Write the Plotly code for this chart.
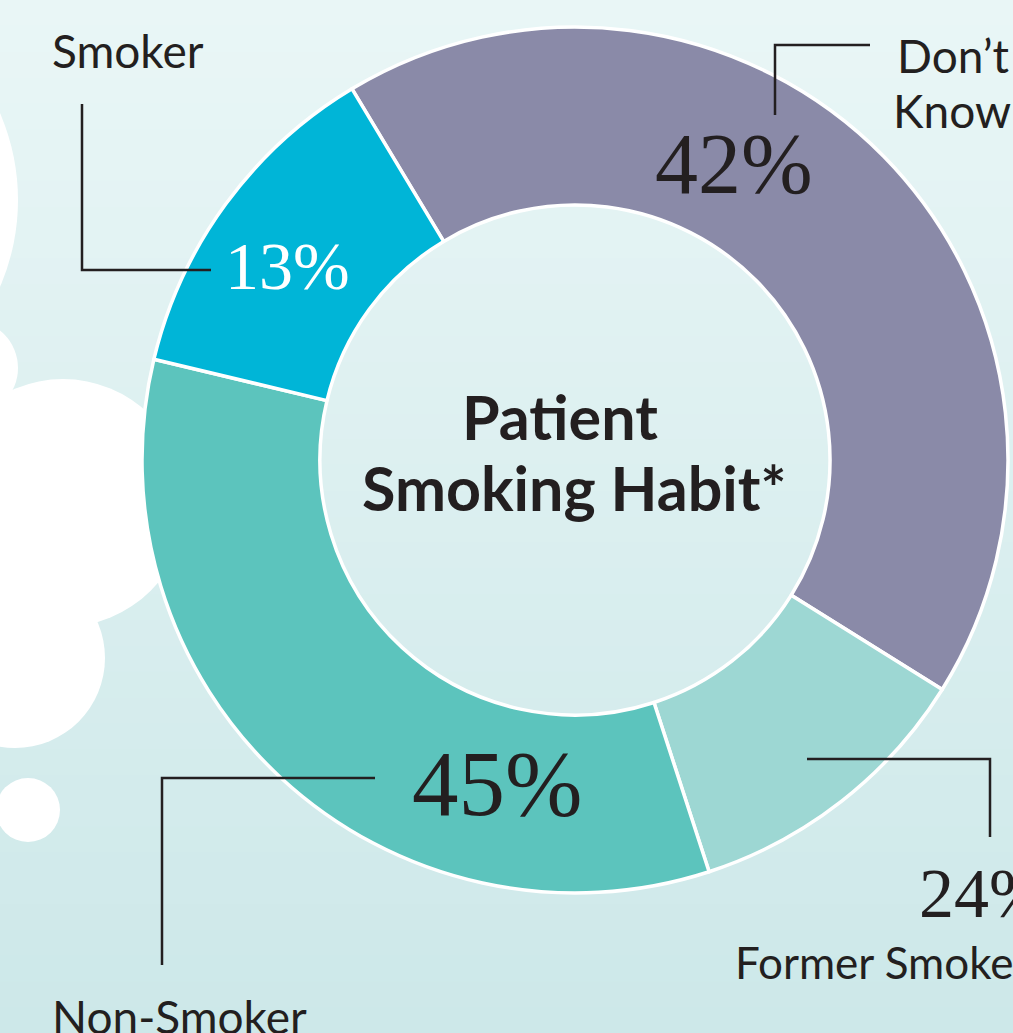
import plotly.graph_objects as go

# ---- data ----
categories = ["Don\u2019t Know", "Former Smoker", "Non-Smoker", "Smoker"]
# angular share of each ring segment as drawn
slice_share = [42.5, 11.1, 33.75, 12.65]
# printed percentage labels
pct_labels = ["42%", "24%", "45%", "13%"]
colors = ["#8a8aa8", "#9dd7d3", "#5cc4bd", "#00b5d7"]

W, H = 1013, 1033
CX, CY, R = 575, 460, 433
HOLE = 0.589

fig = go.Figure()

fig.add_trace(go.Pie(
    labels=categories,
    values=slice_share,
    sort=False,
    direction="clockwise",
    rotation=-31,
    hole=HOLE,
    marker=dict(colors=colors, line=dict(color="white", width=3.5)),
    textinfo="none",
    hoverinfo="skip",
    showlegend=False,
    domain=dict(x=[(CX - R) / W, (CX + R) / W], y=[1 - (CY + R) / H, 1 - (CY - R) / H]),
))

shapes = []
# background gradient bands
top = (233, 246, 246)
bot = (205, 232, 233)
n = 40
for i in range(n):
    t = i / (n - 1)
    c = tuple(round(top[k] + (bot[k] - top[k]) * t) for k in range(3))
    shapes.append(dict(type="rect", xref="x", yref="y", x0=0, x1=W,
                       y0=i * H / n, y1=(i + 1) * H / n + 1,
                       fillcolor="rgb(%d,%d,%d)" % c, line=dict(width=0), layer="below"))
# smoke clouds
for (cx, cy, r) in [(-201, 200, 219), (-30, 368, 48), (63, 503, 124), (15, 658, 90), (28, 810, 32)]:
    shapes.append(dict(type="circle", xref="x", yref="y", x0=cx - r, x1=cx + r, y0=cy - r, y1=cy + r,
                       fillcolor="white", line=dict(width=0), layer="below"))
# leader lines
LC = "#231f20"
for p in ["M82,104 L82,270 L211,270",
          "M775,115 L775,45 L870,45",
          "M375,778 L162,778 L162,965",
          "M807,759 L990,759 L990,837"]:
    shapes.append(dict(type="path", xref="x", yref="y", path=p,
                       line=dict(color=LC, width=2.5), layer="above"))

SANS = "Lato, 'Open Sans', sans-serif"
SERIF = "'Liberation Serif', 'DejaVu Serif', serif"

ann = []
def text(x, y, s, size, family, color=LC, xanchor="left", weight="normal"):
    ann.append(dict(x=x, y=y, xref="x", yref="y", text=s, showarrow=False,
                    xanchor=xanchor, yanchor="middle",
                    font=dict(size=size, family=family, color=color, weight=weight)))

# category names
text(50, 50, "Smoker", 46, SANS)
text(895, 55, "Don\u2019t", 46, SANS)
text(891, 110, "Know", 46, SANS)
text(50, 1016, "Non-Smoker", 46, SANS)
text(733, 962, "Former Smoker", 44, SANS)

# percentages
text(223, 266, pct_labels[3], 68, SERIF, color="white")
text(653, 164, pct_labels[0], 86, SERIF)
text(410, 783, pct_labels[2], 93, SERIF)
text(917, 893, pct_labels[1], 70, SERIF)

# center title
text(560, 416, "Patient", 61, SANS, xanchor="center", weight="bold")
text(574, 487, "Smoking Habit*", 61, SANS, xanchor="center", weight="bold")

fig.update_layout(
    width=W, height=H,
    margin=dict(l=0, r=0, t=0, b=0),
    paper_bgcolor="rgb(225,242,242)",
    plot_bgcolor="rgba(0,0,0,0)",
    xaxis=dict(range=[0, W], visible=False, fixedrange=True),
    yaxis=dict(range=[H, 0], visible=False, fixedrange=True),
    shapes=shapes,
    annotations=ann,
    showlegend=False,
)

fig.write_html("out.html", config={"displayModeBar": False},
               post_script="document.body.style.margin='0';document.body.style.overflow='hidden';")
